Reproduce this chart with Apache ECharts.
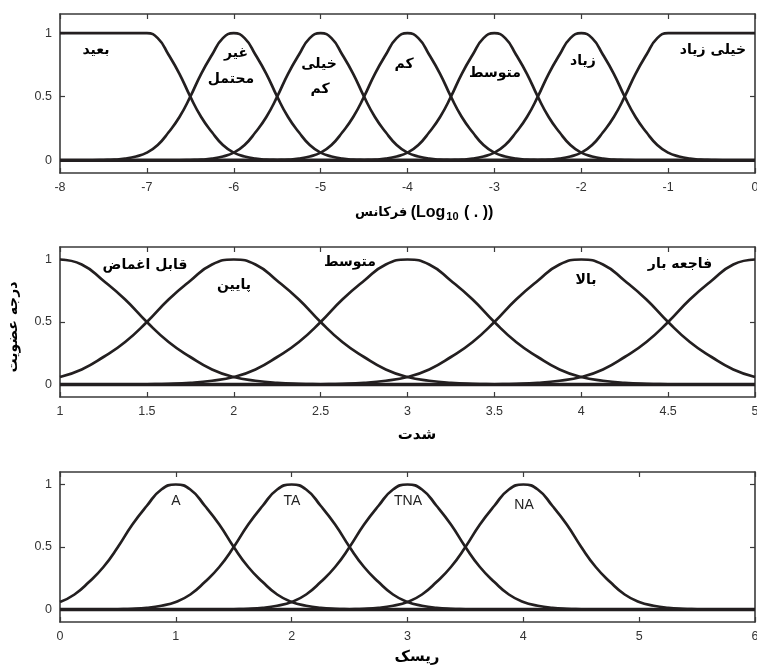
<!DOCTYPE html>
<html>
<head>
<meta charset="utf-8">
<script src="https://cdn.jsdelivr.net/npm/echarts@6/dist/echarts.min.js"></script>
<style>
html,body{margin:0;padding:0;background:#fff;overflow:hidden;}
#c{width:757px;height:666px;}
</style>
</head>
<body>
<div id="c"></div>
<script>
// ---------- Panel 1: frequency (log10) ----------
const freqX = [-8,-7.875,-7.75,-7.625,-7.5,-7.375,-7.25,-7.125,
  -7,-6.875,-6.75,-6.625,-6.5,-6.375,-6.25,-6.125,
  -6,-5.875,-5.75,-5.625,-5.5,-5.375,-5.25,-5.125,
  -5,-4.875,-4.75,-4.625,-4.5,-4.375,-4.25,-4.125,
  -4,-3.875,-3.75,-3.625,-3.5,-3.375,-3.25,-3.125,
  -3,-2.875,-2.75,-2.625,-2.5,-2.375,-2.25,-2.125,
  -2,-1.875,-1.75,-1.625,-1.5,-1.375,-1.25,-1.125,
  -1,-0.875,-0.75,-0.625,-0.5,-0.375,-0.25,-0.125,0];
const freqNames = ['بعید','غیر محتمل','خیلی کم','کم','متوسط','زیاد','خیلی زیاد'];
const freqY1 = [1,1,1,1,1,1,1,1,
  1,0.96,0.83,0.68,0.5,0.34,0.22,0.12,
  0.06,0.03,0.013,0.005,0.002,0,0,0,
  0,0,0,0,0,0,0,0, 0,0,0,0,0,0,0,0, 0,0,0,0,0,0,0,0, 0,0,0,0,0,0,0,0, 0,0,0,0,0,0,0,0,0];
const freqY2 = [0,0,0,0,0.002,0.005,0.013,0.03,
  0.06,0.12,0.22,0.34,0.5,0.68,0.83,0.96,
  1,0.96,0.83,0.68,0.5,0.34,0.22,0.12,
  0.06,0.03,0.013,0.005,0.002,0,0,0,
  0,0,0,0,0,0,0,0, 0,0,0,0,0,0,0,0, 0,0,0,0,0,0,0,0, 0,0,0,0,0,0,0,0,0];
const freqY3 = [0,0,0,0,0,0,0,0,
  0,0,0,0,0.002,0.005,0.013,0.03,
  0.06,0.12,0.22,0.34,0.5,0.68,0.83,0.96,
  1,0.96,0.83,0.68,0.5,0.34,0.22,0.12,
  0.06,0.03,0.013,0.005,0.002,0,0,0,
  0,0,0,0,0,0,0,0, 0,0,0,0,0,0,0,0, 0,0,0,0,0,0,0,0,0];
const freqY4 = [0,0,0,0,0,0,0,0, 0,0,0,0,0,0,0,0,
  0,0,0,0,0.002,0.005,0.013,0.03,
  0.06,0.12,0.22,0.34,0.5,0.68,0.83,0.96,
  1,0.96,0.83,0.68,0.5,0.34,0.22,0.12,
  0.06,0.03,0.013,0.005,0.002,0,0,0,
  0,0,0,0,0,0,0,0, 0,0,0,0,0,0,0,0,0];
const freqY5 = [0,0,0,0,0,0,0,0, 0,0,0,0,0,0,0,0, 0,0,0,0,0,0,0,0,
  0,0,0,0,0.002,0.005,0.013,0.03,
  0.06,0.12,0.22,0.34,0.5,0.68,0.83,0.96,
  1,0.96,0.83,0.68,0.5,0.34,0.22,0.12,
  0.06,0.03,0.013,0.005,0.002,0,0,0,
  0,0,0,0,0,0,0,0,0];
const freqY6 = [0,0,0,0,0,0,0,0, 0,0,0,0,0,0,0,0, 0,0,0,0,0,0,0,0, 0,0,0,0,0,0,0,0,
  0,0,0,0,0.002,0.005,0.013,0.03,
  0.06,0.12,0.22,0.34,0.5,0.68,0.83,0.96,
  1,0.96,0.83,0.68,0.5,0.34,0.22,0.12,
  0.06,0.03,0.013,0.005,0.002,0,0,0,0];
const freqY7 = [0,0,0,0,0,0,0,0, 0,0,0,0,0,0,0,0, 0,0,0,0,0,0,0,0, 0,0,0,0,0,0,0,0, 0,0,0,0,0,0,0,0,
  0,0,0,0,0.002,0.005,0.013,0.03,
  0.06,0.12,0.22,0.34,0.5,0.68,0.83,0.96,
  1,1,1,1,1,1,1,1,1];

// ---------- Panel 2: severity ----------
const sevX = [1,1.125,1.25,1.375,1.5,1.625,1.75,1.875,
  2,2.125,2.25,2.375,2.5,2.625,2.75,2.875,
  3,3.125,3.25,3.375,3.5,3.625,3.75,3.875,
  4,4.125,4.25,4.375,4.5,4.625,4.75,4.875,5];
const sevNames = ['قابل اغماض','پایین','متوسط','بالا','فاجعه بار'];
const sevY1 = [1,0.96,0.83,0.68,0.5,0.34,0.22,0.12,
  0.06,0.03,0.013,0.005,0.002,0,0,0,
  0,0,0,0,0,0,0,0, 0,0,0,0,0,0,0,0,0];
const sevY2 = [0.06,0.12,0.22,0.34,0.5,0.68,0.83,0.96,
  1,0.96,0.83,0.68,0.5,0.34,0.22,0.12,
  0.06,0.03,0.013,0.005,0.002,0,0,0,
  0,0,0,0,0,0,0,0,0];
const sevY3 = [0,0,0,0,0.002,0.005,0.013,0.03,
  0.06,0.12,0.22,0.34,0.5,0.68,0.83,0.96,
  1,0.96,0.83,0.68,0.5,0.34,0.22,0.12,
  0.06,0.03,0.013,0.005,0.002,0,0,0,0];
const sevY4 = [0,0,0,0,0,0,0,0,
  0,0,0,0,0.002,0.005,0.013,0.03,
  0.06,0.12,0.22,0.34,0.5,0.68,0.83,0.96,
  1,0.96,0.83,0.68,0.5,0.34,0.22,0.12,0.06];
const sevY5 = [0,0,0,0,0,0,0,0, 0,0,0,0,0,0,0,0,
  0,0,0,0,0.002,0.005,0.013,0.03,
  0.06,0.12,0.22,0.34,0.5,0.68,0.83,0.96,1];

// ---------- Panel 3: risk ----------
const riskX = [0,0.125,0.25,0.375,0.5,0.625,0.75,0.875,
  1,1.125,1.25,1.375,1.5,1.625,1.75,1.875,
  2,2.125,2.25,2.375,2.5,2.625,2.75,2.875,
  3,3.125,3.25,3.375,3.5,3.625,3.75,3.875,
  4,4.125,4.25,4.375,4.5,4.625,4.75,4.875,
  5,5.125,5.25,5.375,5.5,5.625,5.75,5.875,6];
const riskNames = ['A','TA','TNA','NA'];
const riskY1 = [0.06,0.12,0.22,0.34,0.5,0.68,0.83,0.96,
  1,0.96,0.83,0.68,0.5,0.34,0.22,0.12,
  0.06,0.03,0.013,0.005,0.002,0,0,0,
  0,0,0,0,0,0,0,0, 0,0,0,0,0,0,0,0, 0,0,0,0,0,0,0,0,0];
const riskY2 = [0,0,0,0,0.002,0.005,0.013,0.03,
  0.06,0.12,0.22,0.34,0.5,0.68,0.83,0.96,
  1,0.96,0.83,0.68,0.5,0.34,0.22,0.12,
  0.06,0.03,0.013,0.005,0.002,0,0,0,
  0,0,0,0,0,0,0,0, 0,0,0,0,0,0,0,0,0];
const riskY3 = [0,0,0,0,0,0,0,0,
  0,0,0,0,0.002,0.005,0.013,0.03,
  0.06,0.12,0.22,0.34,0.5,0.68,0.83,0.96,
  1,0.96,0.83,0.68,0.5,0.34,0.22,0.12,
  0.06,0.03,0.013,0.005,0.002,0,0,0,
  0,0,0,0,0,0,0,0,0];
const riskY4 = [0,0,0,0,0,0,0,0, 0,0,0,0,0,0,0,0,
  0,0,0,0,0.002,0.005,0.013,0.03,
  0.06,0.12,0.22,0.34,0.5,0.68,0.83,0.96,
  1,0.96,0.83,0.68,0.5,0.34,0.22,0.12,
  0.06,0.03,0.013,0.005,0.002,0,0,0,0];

const yTicks = [0,0.5,1];

const ink = '#231f20';
const axisCol = '#3a3a3a';
const tickFont = '"Liberation Sans", Arial, sans-serif';
const faFont = '"DejaVu Sans", sans-serif';

const chart = echarts.init(document.getElementById('c'), null, {renderer:'canvas'});

const grids = [
  {left:60, top:14, width:695, height:159, containLabel:false, outerBoundsMode:'none'},
  {left:60, top:247, width:695, height:150, containLabel:false, outerBoundsMode:'none'},
  {left:60, top:472, width:695, height:150, containLabel:false, outerBoundsMode:'none'}
];
const xRanges = [[-8,0,1],[1,5,0.5],[0,6,1]];
const yRanges = [[-0.1,1.15],[-0.1,1.1],[-0.1,1.1]];

const xAxes = [], yAxes = [];
grids.forEach((g,i)=>{
  const [mn,mx,iv] = xRanges[i];
  const common = {
    type:'value', gridIndex:i, min:mn, max:mx, interval:iv,
    splitLine:{show:false},
    axisLine:{show:true, onZero:false, lineStyle:{color:axisCol, width:1.6}},
    axisTick:{show:true, inside:true, length:5, lineStyle:{color:axisCol, width:1.2}}
  };
  xAxes.push(Object.assign({}, common, {position:'bottom',
    axisLabel:{show:true, margin:8, color:'#333', fontSize:12.5, fontFamily:tickFont, hideOverlap:false}}));
  xAxes.push(Object.assign({}, common, {position:'top', axisLabel:{show:false}}));
  const ycommon = {
    type:'value', gridIndex:i, min:yRanges[i][0], max:yRanges[i][1],
    splitLine:{show:false},
    axisLine:{show:true, onZero:false, lineStyle:{color:axisCol, width:1.6}},
    axisTick:{show:true, inside:true, length:5, customValues:yTicks, lineStyle:{color:axisCol, width:1.2}}
  };
  yAxes.push(Object.assign({}, ycommon, {position:'left',
    axisLabel:{show:true, margin:8, color:'#333', fontSize:12.5, fontFamily:tickFont, customValues:yTicks}}));
  yAxes.push(Object.assign({}, ycommon, {position:'right', axisLabel:{show:false}}));
});

function curve(xs, ys, gi){
  return {
    type:'line', xAxisIndex:gi*2, yAxisIndex:gi*2,
    data: xs.map((x,k)=>[x, ys[k]]),
    smooth:0.5, symbol:'none', silent:true,
    lineStyle:{color:ink, width:2.7}, z:3
  };
}
function baseline(xs, gi){
  return {
    type:'line', xAxisIndex:gi*2, yAxisIndex:gi*2,
    data:[[xs[0],0],[xs[xs.length-1],0]],
    symbol:'none', silent:true, lineStyle:{color:ink, width:3.4}, z:2
  };
}

const series = [];
[freqY1,freqY2,freqY3,freqY4,freqY5,freqY6,freqY7].forEach(ys=>series.push(curve(freqX, ys, 0)));
series.push(baseline(freqX,0));
[sevY1,sevY2,sevY3,sevY4,sevY5].forEach(ys=>series.push(curve(sevX, ys, 1)));
series.push(baseline(sevX,1));
[riskY1,riskY2,riskY3,riskY4].forEach(ys=>series.push(curve(riskX, ys, 2)));
series.push(baseline(riskX,2));

function faLabel(text, x, y, size){
  return {type:'text', x:x, y:y, z:10, silent:true,
    style:{text:text, fill:'#000', font:'bold '+(size||14)+'px '+faFont, align:'center', verticalAlign:'middle'}};
}
function enLabel(text, x, y){
  return {type:'text', x:x, y:y, z:10, silent:true,
    style:{text:text, fill:'#222', font:'14px '+tickFont, align:'center', verticalAlign:'middle'}};
}

const graphics = [
  faLabel(freqNames[0], 96, 50),
  faLabel('غیر', 236, 53),
  faLabel('محتمل', 231, 79),
  faLabel('خیلی', 319, 64),
  faLabel('کم', 320, 89),
  faLabel(freqNames[3], 404, 64),
  faLabel(freqNames[4], 495, 73),
  faLabel(freqNames[5], 583, 61),
  faLabel(freqNames[6], 713, 50),
  faLabel(sevNames[0], 145, 265),
  faLabel(sevNames[1], 234, 285),
  faLabel(sevNames[2], 350, 262),
  faLabel(sevNames[3], 586, 280),
  faLabel(sevNames[4], 680, 264),
  enLabel(riskNames[0], 176, 501),
  enLabel(riskNames[1], 292, 501),
  enLabel(riskNames[2], 408, 501),
  enLabel(riskNames[3], 524, 505),
  {type:'text', x:355, y:213, z:10, silent:true,
    style:{text:'{a|فرکانس} {b|(Log}{c|10}{b| ( . ))}', align:'left', verticalAlign:'middle',
      rich:{
        a:{font:'bold 13px '+faFont, fill:'#000'},
        b:{font:'bold 16px '+tickFont, fill:'#000'},
        c:{font:'bold 11px '+tickFont, fill:'#000', verticalAlign:'bottom', padding:[7,1,0,1]}
      }}},
  faLabel('شدت', 417, 435, 15),
  faLabel('ریسک', 417, 657, 15),
  {type:'text', x:13, y:327, rotation:Math.PI/2, z:10, silent:true,
    style:{text:'درجه عضویت', fill:'#000', font:'bold 14px '+faFont, align:'center', verticalAlign:'middle'}}
];

chart.setOption({
  animation:false,
  backgroundColor:'#fff',
  grid:grids,
  xAxis:xAxes,
  yAxis:yAxes,
  series:series,
  graphic:graphics
});
</script>
</body>
</html>
